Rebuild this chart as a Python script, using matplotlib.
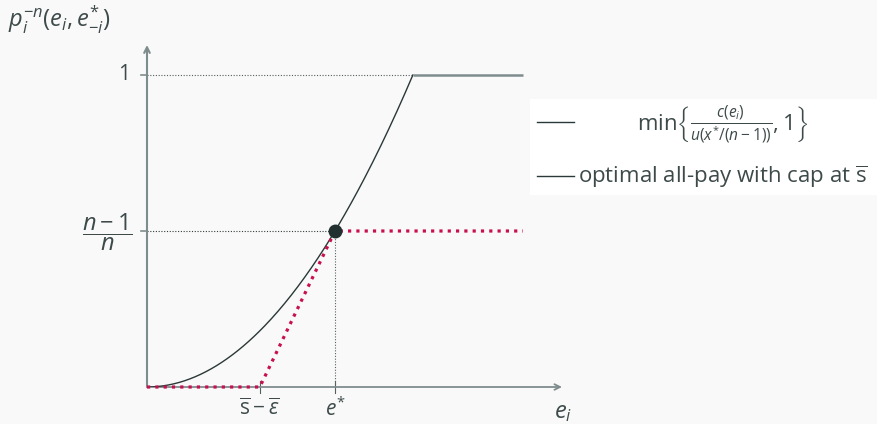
import numpy as np
import matplotlib
matplotlib.use("Agg")
from matplotlib import pyplot as plt
from matplotlib.patches import Rectangle
from matplotlib.lines import Line2D

# data (e* = 1, cost c(e) = e^2 / 2, cap reached at e = sqrt(2))
e_star = 1.0
p_star = 0.5
e_cap = np.sqrt(2)
s_minus_eps = 0.6
e_end = 2.0
cost_e = np.linspace(0, e_cap, 200)
cost_p = cost_e ** 2 / 2
allpay_e = [0, s_minus_eps, e_star, e_end]
allpay_p = [0, 0, p_star, p_star]
x_ticklabels = [r'$\overline{\mathrm{s}}-\overline{\varepsilon}$', r'$e^{*}$']
y_ticklabels = ['1', r'$\dfrac{n-1}{n}$']

plt.rcParams['font.family'] = ['Open Sans', 'DejaVu Sans']
plt.rcParams['mathtext.fontset'] = 'custom'
plt.rcParams['mathtext.rm'] = 'Open Sans'
plt.rcParams['mathtext.it'] = 'Open Sans:italic'
plt.rcParams['mathtext.bf'] = 'Open Sans:bold'

bg = '#f9f9f9'
axc = '#7f8c8d'
txt = '#3e4a4a'
dark = '#2b3838'
red = '#c8104f'

W, H = 877, 424
fig = plt.figure(figsize=(W / 100, H / 100), dpi=100, facecolor=bg)
x0, y0, x1, y1 = 147, 387, 562, 45
ax = fig.add_axes([x0 / W, (H - y0) / H, (x1 - x0) / W, (y0 - y1) / H])
ax.set_facecolor(bg)
xmax = (x1 - x0) / 188.0
ymax = (y0 - y1) / 312.0
ax.set_xlim(0, xmax)
ax.set_ylim(0, ymax)
ax.axis('off')

# axes with arrows
ax.annotate('', xy=(xmax, 0), xytext=(0, 0), annotation_clip=False,
            arrowprops=dict(arrowstyle='->', color=axc, lw=1.3, shrinkA=0, shrinkB=0))
ax.annotate('', xy=(0, ymax), xytext=(0, 0), annotation_clip=False,
            arrowprops=dict(arrowstyle='->', color=axc, lw=1.5, shrinkA=0, shrinkB=0))

# reference lines
ax.plot([0, e_cap], [1, 1], color='#555f5f', lw=0.8, ls=(0, (1, 1.5)))
ax.plot([0, e_star], [p_star, p_star], color='#333d3d', lw=0.8, ls=(0, (1, 1.5)))
ax.plot([e_star, e_star], [0, p_star], color='#555f5f', lw=0.8, ls=(0, (1, 1.5)))

# curves
ax.plot(cost_e, cost_p, color=dark, lw=1.0, zorder=4)
ax.plot([e_cap, e_end], [1, 1], color=axc, lw=1.8, solid_capstyle='butt', zorder=4)
ax.plot(allpay_e, allpay_p, color=red, lw=2.3, ls=(0, (1, 1.6)), zorder=5, clip_on=False)
ax.plot([e_star], [p_star], 'o', color='#223030', ms=9, zorder=6)

# ticks
for xv in [s_minus_eps, e_star]:
    ax.plot([xv, xv], [0.02, -0.02], color='#556060', lw=0.8, clip_on=False)
for yv in [1, p_star]:
    ax.plot([-0.03, 0], [yv, yv], color=axc, lw=1.2, clip_on=False)

# tick labels
for xv, lab in zip([s_minus_eps, e_star], x_ticklabels):
    ax.text(xv, -0.07, lab, ha='center', va='center', fontsize=15, color=txt)
ax.text(-0.09, 1, y_ticklabels[0], ha='right', va='center', fontsize=15, color=txt)
ax.text(-0.075, p_star - 0.005, y_ticklabels[1], ha='right', va='center', fontsize=17, color=txt)
ax.text(xmax + 0.005, -0.08, r'$e_i$', ha='center', va='center', fontsize=17, color=txt)
fig.text(8 / W, 1 - 20 / H, r'$p_i^{-n}(e_i,e^{*}_{-i})$', ha='left', va='center',
         fontsize=17, color=txt)

# legend
fig.patches.append(Rectangle((530 / W, 1 - 195 / H), 347 / W, 96 / H,
                             transform=fig.transFigure, facecolor='white', edgecolor='none'))
fig.lines.append(Line2D([537 / W, 574 / W], [1 - 122 / H] * 2, transform=fig.transFigure,
                        color=dark, lw=1.0))
fig.lines.append(Line2D([537 / W, 574 / W], [1 - 176 / H] * 2, transform=fig.transFigure,
                        color=dark, lw=1.0))
fig.text(723 / W, 1 - 125 / H, r'$\min\left\{\frac{c(e_i)}{u(x^{*}/(n-1))},1\right\}$',
         ha='center', va='center', fontsize=16, color=txt)
fig.text(578 / W, 1 - 177 / H, r'optimal all-pay with cap at $\overline{\mathrm{s}}$',
         ha='left', va='center', fontsize=16, color=txt)

fig.savefig('out.png', dpi=100, facecolor=bg)
